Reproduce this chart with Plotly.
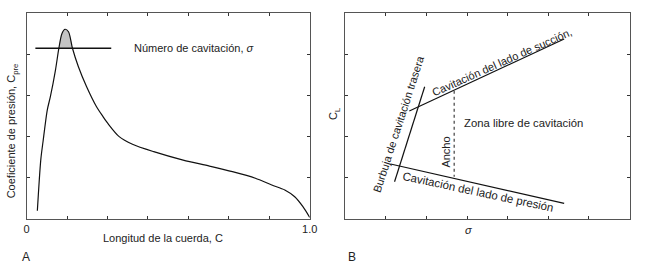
import numpy as np
import plotly.graph_objects as go

# ---- Panel A data (normalised chord vs pressure coefficient) ----
chord_x = [0.038, 0.050, 0.058, 0.073, 0.084, 0.102, 0.114, 0.125, 0.136, 0.148,
           0.162, 0.183, 0.212, 0.247, 0.270, 0.287, 0.327, 0.374, 0.449, 0.553,
           0.646, 0.727, 0.808, 0.866, 0.912, 0.947, 0.976, 1.0]
cp_y = [0.040, 0.286, 0.375, 0.529, 0.594, 0.723, 0.829, 0.901, 0.921, 0.909,
        0.829, 0.739, 0.642, 0.545, 0.497, 0.464, 0.400, 0.363, 0.327, 0.286,
        0.257, 0.230, 0.198, 0.165, 0.141, 0.108, 0.060, 0.008]
sigma_level = 0.829
sigma_x = [0.031, 0.299]
a_xtickvals = [0, 1]
a_xticklabels = ["0", "1.0"]

# ---- Panel B data (sigma vs C_L, cavitation bucket) ----
suction_x = [0.225, 0.770]
suction_y = [0.524, 0.874]
bubble_x = [0.173, 0.279]
bubble_y = [0.181, 0.642]
pressure_x = [0.159, 0.770]
pressure_y = [0.267, 0.076]
width_x = [0.383, 0.383]
width_y = [0.623, 0.205]

FONT = "Liberation Sans, Arial, sans-serif"
TXT = "#222222"
FRAME = "#555555"

fig = go.Figure()

# shaded region above sigma line
cx = np.array(chord_x)
cy = np.array(cp_y)
mask = cy >= sigma_level
fig.add_trace(go.Scatter(x=cx[mask], y=cy[mask], mode="lines", fill="toself",
                         fillcolor="#c4c4c4", line=dict(width=0, shape="spline"),
                         xaxis="x", yaxis="y", hoverinfo="skip", showlegend=False))
fig.add_trace(go.Scatter(x=chord_x, y=cp_y, mode="lines",
                         line=dict(color="#111111", width=1.2, shape="spline", smoothing=0.8),
                         xaxis="x", yaxis="y", showlegend=False))
fig.add_trace(go.Scatter(x=sigma_x, y=[sigma_level, sigma_level], mode="lines",
                         line=dict(color="#111111", width=1.3),
                         xaxis="x", yaxis="y", showlegend=False))

for xs, ys in [(suction_x, suction_y), (bubble_x, bubble_y), (pressure_x, pressure_y)]:
    fig.add_trace(go.Scatter(x=xs, y=ys, mode="lines",
                             line=dict(color="#111111", width=1.2),
                             xaxis="x2", yaxis="y2", showlegend=False))
fig.add_trace(go.Scatter(x=width_x, y=width_y, mode="lines",
                         line=dict(color="#666666", width=1.5, dash="dot"),
                         xaxis="x2", yaxis="y2", showlegend=False))

xt = [k / 7 for k in range(1, 7)]
yt = [k / 5 for k in range(1, 5)]
common = dict(range=[0, 1], showline=True, linecolor=FRAME, linewidth=1, mirror="ticks",
              showgrid=False, zeroline=False, fixedrange=True)
minor_x = dict(tickvals=xt, ticks="inside", ticklen=3, tickcolor="#333333", showgrid=False)
minor_y = dict(tickvals=yt, ticks="inside", ticklen=3, tickcolor="#333333", showgrid=False)

ydom = [1 - 219 / 265, 1 - 13 / 265]
fig.update_layout(
    width=650, height=265,
    margin=dict(l=0, r=0, t=0, b=0),
    paper_bgcolor="white", plot_bgcolor="white",
    font=dict(family=FONT, size=11, color=TXT),
    xaxis=dict(domain=[24 / 650, 312 / 650], anchor="y", tickvals=a_xtickvals,
               ticktext=a_xticklabels, ticks="", tickfont=dict(size=11, color=TXT),
               minor=minor_x, **common),
    yaxis=dict(domain=ydom, anchor="x", tickvals=[], showticklabels=False,
               minor=minor_y, **common),
    xaxis2=dict(domain=[348.3 / 650, 637.3 / 650], anchor="y2", tickvals=[],
                showticklabels=False, minor=minor_x, **common),
    yaxis2=dict(domain=ydom, anchor="x2", tickvals=[], showticklabels=False,
                minor=minor_y, **common),
)

def ann(text, x, y, xref, yref, angle=0, xanchor="center", size=11):
    fig.add_annotation(text=text, x=x, y=y, xref=xref, yref=yref, showarrow=False,
                       textangle=angle, xanchor=xanchor, yanchor="middle",
                       font=dict(family=FONT, size=size, color=TXT))

# Panel A texts
ann("Número de cavitación, <i>σ</i>", 0.372, sigma_level, "x", "y", xanchor="left")
ann("Longitud de la cuerda, C", 163 / 650, 1 - 238 / 265, "paper", "paper")
ann("Coeficiente de presión, C<sub>pre</sub>", 9.5 / 650, 1 - 131 / 265, "paper", "paper", angle=-90)
ann("A", 23 / 650, 1 - 257 / 265, "paper", "paper", size=12)

# Panel B texts
ann("Cavitación del lado de succión,", 0.55, 0.764, "x2", "y2", angle=-24)
ann("Burbuja de cavitación trasera", 0.187, 0.461, "x2", "y2", angle=-72)
ann("Cavitación del lado de presión", 0.468, 0.13, "x2", "y2", angle=12, size=11.5)
ann("Zona libre de cavitación", 0.627, 0.465, "x2", "y2", size=11.3)
ann("Ancho", 0.354, 0.327, "x2", "y2", angle=-90)
ann("<i>σ</i>", 473.3 / 650, 1 - 230 / 265, "paper", "paper")
ann("C<sub>L</sub>", 337.3 / 650, 1 - 113.3 / 265, "paper", "paper", angle=-90)
ann("B", 355 / 650, 1 - 256.7 / 265, "paper", "paper", size=12)

fig.write_html("out.html", config={"displayModeBar": False, "staticPlot": True},
               post_script="document.body.style.margin='0';document.body.style.overflow='hidden';")
